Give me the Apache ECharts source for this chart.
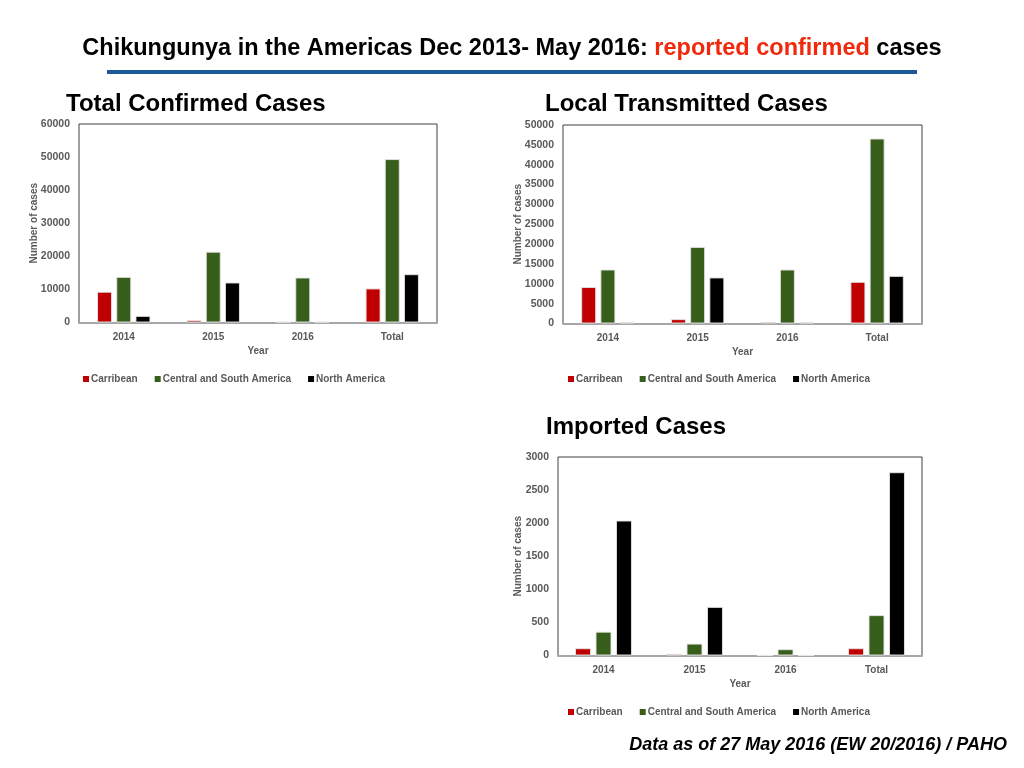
<!DOCTYPE html>
<html>
<head>
<meta charset="utf-8">
<script src="https://cdn.jsdelivr.net/npm/echarts@6/dist/echarts.min.js"></script>
<style>html,body{margin:0;padding:0;background:#fff}#c{width:1024px;height:768px}</style>
</head>
<body>
<div id="c"></div>
<script>
var categories = ['2014', '2015', '2016', 'Total'];
var seriesNames = ['Carribean', 'Central and South America', 'North America'];

var totalCarib   = [9300, 700, 200, 10300];
var totalCentral = [13800, 21400, 13600, 49400];
var totalNorth   = [2000, 12100, 200, 14600];

var localCarib   = [9200, 1100, 400, 10500];
var localCentral = [13600, 19300, 13600, 46600];
var localNorth   = [300, 11600, 300, 12000];

var importCarib   = [110, 25, 0, 110];
var importCentral = [360, 180, 95, 610];
var importNorth   = [2040, 735, 0, 2770];

var FONT = "'Liberation Sans', Arial, Helvetica, sans-serif";
var colors = ['#c00000', '#385e1c', '#000000'];
var gray = '#595959';

var grids = [
  {left: 79, top: 124, width: 358, height: 198.5},
  {left: 563, top: 125, width: 359, height: 198.5},
  {left: 558, top: 457, width: 364, height: 198.5}
];
var yCfg = [
  {max: 60000, interval: 10000, gap: 40},
  {max: 50000, interval: 5000, gap: 40},
  {max: 3000, interval: 500, gap: 35}
];
var dataSets = [
  [totalCarib, totalCentral, totalNorth],
  [localCarib, localCentral, localNorth],
  [importCarib, importCentral, importNorth]
];
var barW = [15, 15, 16];

var option = {
  animation: false,
  textStyle: {fontFamily: FONT},
  title: [{
    text: '{a|Chikungunya in the Americas Dec 2013- May 2016: }{r|reported confirmed}{a| cases}',
    left: 'center', top: 32,
    textStyle: {rich: {
      a: {fontFamily: FONT, fontWeight: 'bold', fontSize: 23.5, color: '#000'},
      r: {fontFamily: FONT, fontWeight: 'bold', fontSize: 23.5, color: '#f0290c'}
    }}
  }],
  color: colors,
  grid: grids.map(function (g) {
    return {left: g.left, top: g.top, width: g.width, height: g.height,
      show: true, borderColor: '#404040', borderWidth: 1, backgroundColor: 'transparent', containLabel: false};
  }),
  xAxis: grids.map(function (g, i) {
    return {
      type: 'category', gridIndex: i, data: categories,
      name: 'Year', nameLocation: 'middle', nameGap: 24,
      nameTextStyle: {color: gray, fontWeight: 'bold', fontSize: 10, fontFamily: FONT},
      axisLine: {show: true, lineStyle: {color: '#a6a6a6', width: 2}},
      axisTick: {show: false},
      axisLabel: {color: gray, fontWeight: 'bold', fontSize: 10, margin: 10, fontFamily: FONT}
    };
  }),
  yAxis: yCfg.map(function (y, i) {
    return {
      type: 'value', gridIndex: i, min: 0, max: y.max, interval: y.interval,
      name: 'Number of cases', nameLocation: 'middle', nameGap: y.gap, nameMoveOverlap: false,
      nameTextStyle: {color: gray, fontWeight: 'bold', fontSize: 10, fontFamily: FONT},
      axisLine: {show: false}, axisTick: {show: false}, splitLine: {show: false},
      axisLabel: {color: gray, fontWeight: 'bold', fontSize: 10.5, margin: 9, fontFamily: FONT,
        formatter: function (v) { return String(v); }}
    };
  }),
  legend: [
    {left: 83, top: 374},
    {left: 568, top: 374},
    {left: 568, top: 707}
  ].map(function (l) {
    return {
      left: l.left, top: l.top, padding: 0, itemWidth: 6, itemHeight: 6, itemGap: 17,
      icon: 'rect', data: seriesNames,
      itemStyle: {borderWidth: 0},
      textStyle: {color: gray, fontWeight: 'bold', fontSize: 10, fontFamily: FONT, padding: [0, 0, 0, -3]}
    };
  }),
  series: [],
  graphic: [
    {type: 'rect', shape: {x: 107, y: 70, width: 810, height: 4}, style: {fill: '#1c5a98'}},
    {type: 'text', x: 66, y: 104, style: {text: 'Total Confirmed Cases', font: 'bold 24px ' + FONT, fill: '#000', textAlign: 'left', textVerticalAlign: 'middle'}},
    {type: 'text', x: 545, y: 104, style: {text: 'Local Transmitted Cases', font: 'bold 24px ' + FONT, fill: '#000', textAlign: 'left', textVerticalAlign: 'middle'}},
    {type: 'text', x: 546, y: 427, style: {text: 'Imported Cases', font: 'bold 24px ' + FONT, fill: '#000', textAlign: 'left', textVerticalAlign: 'middle'}},
    {type: 'text', x: 1007, y: 745, style: {text: 'Data as of 27 May 2016 (EW 20/2016) / PAHO', font: 'italic bold 18px ' + FONT, fill: '#000', textAlign: 'right', textVerticalAlign: 'middle'}}
  ]
};

dataSets.forEach(function (set, gi) {
  set.forEach(function (arr, si) {
    option.series.push({
      type: 'bar', name: seriesNames[si], xAxisIndex: gi, yAxisIndex: gi,
      data: arr, barWidth: barW[gi], barGap: '28%',
      itemStyle: {color: colors[si], borderColor: 'rgba(230,230,230,0.9)', borderWidth: 1}
    });
  });
});

var chart = echarts.init(document.getElementById('c'), null, {renderer: 'canvas'});
chart.setOption(option);
</script>
</body>
</html>
